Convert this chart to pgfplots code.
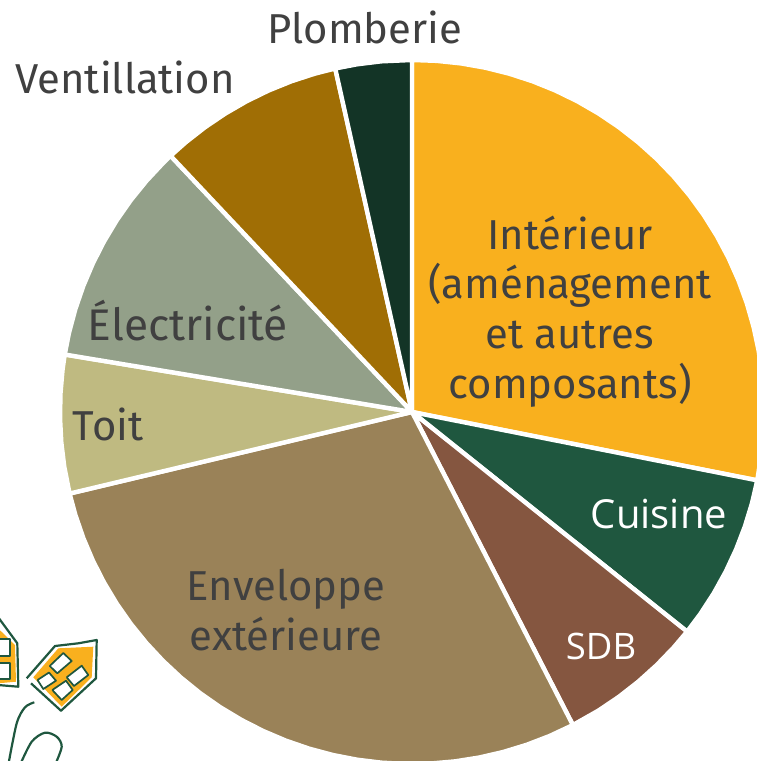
\documentclass[border=0pt]{standalone}
\usepackage{pgfplots}
\pgfplotsset{compat=1.18}
\usepackage{fontspec}
\setmainfont{Fira Sans}
\newfontfamily\whitefont{Open Sans}
\definecolor{cInt}{HTML}{F9B01E}
\definecolor{cCui}{HTML}{1F573F}
\definecolor{cSdb}{HTML}{855640}
\definecolor{cEnv}{HTML}{9A8258}
\definecolor{cToi}{HTML}{BFBA81}
\definecolor{cEle}{HTML}{93A089}
\definecolor{cVen}{HTML}{A06E05}
\definecolor{cPlo}{HTML}{133426}
\definecolor{cTxt}{HTML}{404040}
\pgfplotsset{wedge/.style={data cs=polar,draw=white,line width=4.4pt,line join=round,fill=#1}}
\tikzset{lab/.style={anchor=base,inner sep=0pt,text=cTxt,font=\fontsize{41.8}{41.8}\selectfont},
 wlab/.style={anchor=base,inner sep=0pt,text=white,font=\whitefont\fontsize{#1}{#1}\selectfont}}
\begin{document}
\begin{tikzpicture}[x=1pt,y=1pt]
\useasboundingbox (0,0) rectangle (757,761);
\begin{axis}[at={(0,0)},anchor=south west,scale only axis,width=757pt,height=761pt,hide axis,
  xmin=-412,xmax=345,ymin=-349,ymax=412,clip=true]
\addplot[wedge=cInt] coordinates {(0,0)(90,352)(86,352)(82,352)(78,352)(74,352)(70,352)(66,352)(62,352)(58,352)(54,352)(50,352)(46,352)(42,352)(38,352)(34,352)(30,352)(26,352)(22,352)(18,352)(14,352)(10,352)(6,352)(2,352)(-2,352)(-6,352)(-11.2,352)(0,0)};
\addplot[wedge=cCui] coordinates {(0,0)(-11.2,352)(-15,352)(-19,352)(-23,352)(-27,352)(-31,352)(-35,352)(-38.6,352)(0,0)};
\addplot[wedge=cSdb] coordinates {(0,0)(-38.6,352)(-42,352)(-46,352)(-50,352)(-54,352)(-58,352)(-62.8,352)(0,0)};
\addplot[wedge=cEnv] coordinates {(0,0)(297.2,352)(293,352)(289,352)(285,352)(281,352)(277,352)(273,352)(269,352)(265,352)(261,352)(257,352)(253,352)(249,352)(245,352)(241,352)(237,352)(233,352)(229,352)(225,352)(221,352)(217,352)(213,352)(209,352)(205,352)(201,352)(197,352)(193.4,352)(0,0)};
\addplot[wedge=cToi] coordinates {(0,0)(193.4,352)(189,352)(185,352)(181,352)(177,352)(173,352)(170.6,352)(0,0)};
\addplot[wedge=cEle] coordinates {(0,0)(170.6,352)(167,352)(163,352)(159,352)(155,352)(151,352)(147,352)(143,352)(139,352)(135,352)(133.3,352)(0,0)};
\addplot[wedge=cVen] coordinates {(0,0)(133.3,352)(130,352)(126,352)(122,352)(118,352)(114,352)(110,352)(106,352)(102.6,352)(0,0)};
\addplot[wedge=cPlo] coordinates {(0,0)(102.6,352)(99,352)(95,352)(90,352)(0,0)};
\end{axis}
\begin{axis}[at={(0,0)},anchor=south west,scale only axis,width=757pt,height=761pt,hide axis,
  xmin=0,xmax=757,ymin=0,ymax=761,y dir=reverse,clip=true]
\addplot[fill=cInt,draw=none,forget plot] coordinates {(33.3,677.3)(58.3,648.3)(93.3,646.7)(91.7,677.3)(61.7,706.7)(33.3,677.3)};
\addplot[draw=cCui,line width=2.2pt,line join=round] coordinates {(26.7,678.3)(55,646)(78.3,643.3)(96.7,640)(96,678.3)(61,710.7)(31,683.3)};
\addplot[fill=white,draw=cCui,line width=1.7pt,line join=round] coordinates {(49.7,666)(63.3,653)(71.7,661)(57.3,673.3)(49.7,666)};
\addplot[fill=white,draw=cCui,line width=1.7pt,line join=round] coordinates {(37.5,680)(49,672.5)(56,680.7)(43.3,689)(37.5,680)};
\addplot[fill=white,draw=cCui,line width=1.7pt,line join=round] coordinates {(66.7,677.3)(81.7,665.7)(88.3,675)(74,686)(66.7,677.3)};
\addplot[fill=white,draw=cCui,line width=1.7pt,line join=round] coordinates {(52.3,690)(66,680.7)(72.7,690)(61.7,700)(52.3,690)};
\addplot[fill=cInt,draw=none] coordinates {(-2,628.3)(15,645)(16,681.7)(-2,683.3)(-2,628.3)};
\addplot[draw=cCui,line width=2.2pt,line join=round] coordinates {(-2,617)(17.3,643.3)(18.3,686.7)(-2,685)};
\addplot[fill=white,draw=cCui,line width=1.7pt,line join=round] coordinates {(-3,639)(10,639)(10,656)(-3,656)(-3,639)};
\addplot[fill=white,draw=cCui,line width=1.7pt,line join=round] coordinates {(-3,663)(10,663)(10,679)(-3,679)(-3,663)};
\addplot[draw=cCui,line width=2.2pt,smooth] coordinates {(34.3,702.3)(25,707.3)(16.7,723.3)(8.3,765)};
\addplot[draw=cCui,line width=2.2pt,smooth] coordinates {(20,765)(31.7,741.7)(45,732.7)(56.7,736.7)(61.7,746.7)(55,765)};
\node[lab] at (axis cs:365,43) {Plomberie};
\node[lab] at (axis cs:125,93) {Ventillation};
\node[lab] at (axis cs:570,249) {Intérieur};
\node[lab] at (axis cs:570,298) {(aménagement};
\node[lab] at (axis cs:570,348) {et autres};
\node[lab] at (axis cs:570,398) {composants)};
\node[lab,font=\fontsize{44.3}{44.3}\selectfont] at (axis cs:188,340) {Électricité};
\node[lab] at (axis cs:108,440) {Toit};
\node[lab] at (axis cs:286,600) {Enveloppe};
\node[lab] at (axis cs:286,650) {extérieure};
\node[wlab=40] at (axis cs:659,528) {Cuisine};
\node[wlab=36.5] at (axis cs:601,659) {SDB};
\end{axis}
\end{tikzpicture}
\end{document}
